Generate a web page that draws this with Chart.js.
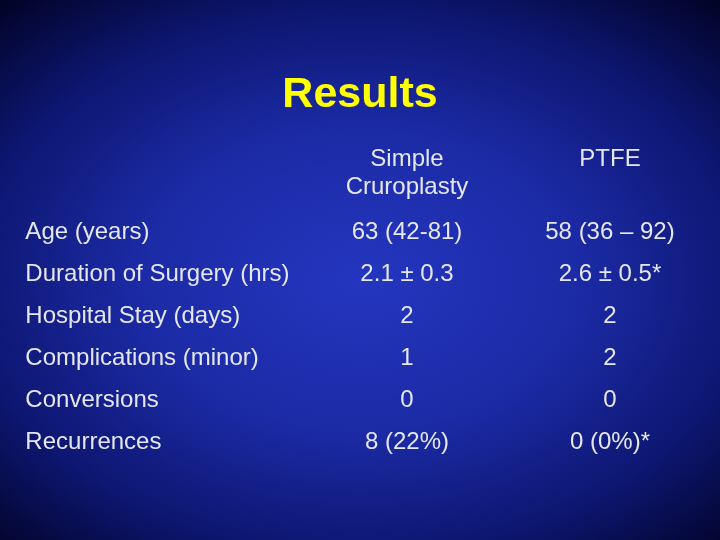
<!DOCTYPE html>
<html lang="en">
  <head>
    <meta charset="UTF-8" />
    <title>Results</title>
    <script src="https://cdn.jsdelivr.net/npm/chart.js"></script>
    <style>
      html, body { margin: 0; padding: 0; }
      body {
        width: 720px; height: 540px; overflow: hidden;
        background: radial-gradient(ellipse 78% 72% at 50% 52%, #2436c0 0%, #1b2aa4 40%, #0d1670 70%, #00001c 100%);
      }
      .wrap { position: relative; width: 720px; height: 540px; }
    </style>
  </head>
  <body>
    <div class="wrap"><canvas id="results"></canvas></div>
    <script>
      // table data
      const title = "Results";
      const columns = [["Simple", "Cruroplasty"], ["PTFE"]];
      const rowLabels = [
        "Age (years)",
        "Duration of Surgery (hrs)",
        "Hospital Stay (days)",
        "Complications (minor)",
        "Conversions",
        "Recurrences",
      ];
      const simpleValues = ["63 (42-81)", "2.1 \u00b1 0.3", "2", "1", "0", "8 (22%)"];
      const ptfeValues = ["58 (36 \u2013 92)", "2.6 \u00b1 0.5*", "2", "2", "0", "0 (0%)*"];

      const LABEL_COL = -1.88;
      const family = "Liberation Sans, Arimo, Arial, sans-serif";
      const font = "24px " + family;
      const textColor = "#e6e6ee";

      const cellText = {
        id: "cellText",
        afterDatasetsDraw(chart) {
          const ctx = chart.ctx;
          const x = chart.scales.x;
          ctx.save();
          ctx.textBaseline = "middle";
          // title
          ctx.fillStyle = "#ffff00";
          ctx.font = "bold 43px " + family;
          ctx.textAlign = "center";
          ctx.fillText(title, chart.width / 2, 95);
          // column headers
          ctx.font = font;
          ctx.fillStyle = textColor;
          columns.forEach((lines, c) => {
            lines.forEach((t, i) => ctx.fillText(t, x.getPixelForValue(c), 159 + i * 28));
          });
          // cells
          chart.data.datasets.forEach((ds, di) => {
            const meta = chart.getDatasetMeta(di);
            ctx.textAlign = ds.align;
            meta.data.forEach((pt, i) => ctx.fillText(ds.texts[i], pt.x, pt.y));
          });
          ctx.restore();
        },
      };

      new Chart(document.getElementById("results"), {
        type: "scatter",
        data: {
          datasets: [
            { texts: rowLabels, align: "left", data: rowLabels.map((r) => ({ x: LABEL_COL, y: r })) },
            { texts: simpleValues, align: "center", data: rowLabels.map((r) => ({ x: 0, y: r })) },
            { texts: ptfeValues, align: "center", data: rowLabels.map((r) => ({ x: 1, y: r })) },
          ],
        },
        options: {
          responsive: true,
          maintainAspectRatio: false,
          animation: false,
          layout: { padding: { top: 211, bottom: 77, left: 0, right: 0 } },
          elements: { point: { radius: 0, hoverRadius: 0 } },
          plugins: { legend: { display: false }, tooltip: { enabled: false } },
          scales: {
            x: { type: "linear", min: -2.005, max: 1.542, display: false },
            y: { type: "category", labels: rowLabels, offset: true, display: false },
          },
        },
        plugins: [cellText],
      });
    </script>
  </body>
</html>
